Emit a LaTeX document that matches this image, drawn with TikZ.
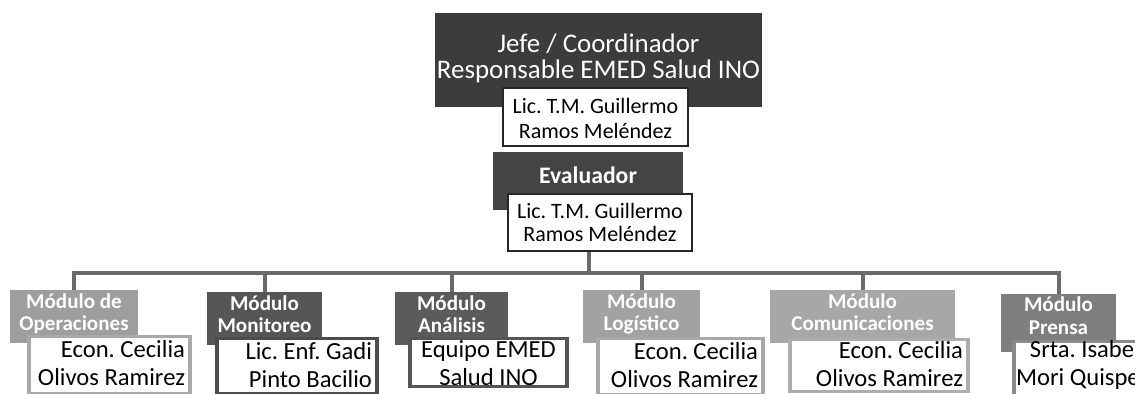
\documentclass[tikz,border=0pt]{standalone}
\usepackage{fontspec}
\setmainfont{Carlito}

\definecolor{bossgray}{HTML}{3C3C3C}
\definecolor{evalgray}{HTML}{444444}
\definecolor{framedark}{HTML}{262626}
\definecolor{linkgray}{HTML}{6A6A6A}
\definecolor{opfill}{HTML}{9E9E9E}
\definecolor{opline}{HTML}{A9A9A9}
\definecolor{monfill}{HTML}{565656}
\definecolor{monline}{HTML}{4C4C4C}
\definecolor{anafill}{HTML}{5B5B5B}
\definecolor{analine}{HTML}{555555}
\definecolor{logfill}{HTML}{A2A2A2}
\definecolor{logline}{HTML}{A8A8A8}
\definecolor{comfill}{HTML}{A7A7A7}
\definecolor{comline}{HTML}{ADADAD}
\definecolor{prefill}{HTML}{7E7E7E}
\definecolor{preline}{HTML}{8A8A8A}

\frenchspacing

\begin{document}
\begin{tikzpicture}[x=0.02cm, y=-0.02cm]
 \tikzset{head/.style={fill=#1, text=white, inner sep=0pt, align=center, anchor=north}}
 \tikzset{modtitle/.style={head=#1, font=\bfseries\fontsize{12}{13}\selectfont,
        text height=0.81cm, text depth=0.25cm}}
 \tikzset{person/.style={draw=#1, fill=white, line width=0.07cm, inner xsep=0.10cm,
        inner ysep=0pt, anchor=north, align=flush right,
        font=\fontsize{14}{15.9}\selectfont, text height=0.42cm, text depth=0.70cm}}
 \tikzset{boss person/.style={draw=framedark, fill=white, line width=0.05cm,
        inner sep=0pt, anchor=north, align=center}}
 \tikzset{link/.style={draw=linkgray, line width=0.08cm}}

 \useasboundingbox (0,0) rectangle (1135,394);
 \clip (0,0) rectangle (1135,394);

 % jefe
 \node[head=bossgray, font=\fontsize{15.3}{14.7}\selectfont, minimum width=6.54cm,
    text height=1.30cm, text depth=0.58cm] (jefe) at (598.5,13)
    {Jefe / Coordinador\\Responsable EMED Salud INO};
 \node[boss person, font=\fontsize{12.5}{14.2}\selectfont, minimum width=3.7cm,
    text height=1.0cm, text depth=0.16cm] (jefeN) at (595.5,87)
    {Lic. T.M. Guillermo\\Ramos Meléndez};

 % evaluador
 \node[head=evalgray, font=\bfseries\fontsize{13.5}{15}\selectfont, minimum width=3.8cm,
    text height=0.62cm, text depth=0.54cm] (eval) at (588,152) {Evaluador};
 \node[boss person, font=\fontsize{12.5}{13}\selectfont, minimum width=3.68cm,
    text height=0.94cm, text depth=0.2cm] (evalN) at (600,193)
    {Lic. T.M. Guillermo\\Ramos Meléndez};

 % modulos
 \node[modtitle=opfill, minimum width=2.56cm] (op) at (74,290) {Módulo de\\Operaciones};
 \node[person=opline, text width=3.02cm, text depth=0.72cm] (opN) at (109.5,335)
    {Econ. Cecilia\\Olivos Ramirez};

 \node[modtitle=monfill, minimum width=2.30cm] (mon) at (264.5,292) {Módulo\\Monitoreo};
 \node[person=monline, text width=3.00cm, text depth=0.68cm] (monN) at (297,337)
    {Lic. Enf. Gadi\\Pinto Bacilio};

 \node[modtitle=anafill, minimum width=2.26cm] (ana) at (451.5,292) {Módulo\\Análisis};
 \node[person=analine, align=flush center, text width=2.94cm, text height=0.38cm,
    text depth=0.58cm] (anaN) at (488.5,337) {Equipo EMED\\Salud INO};

 \node[modtitle=logfill, minimum width=2.34cm] (log) at (641.5,290) {Módulo\\Logístico};
 \node[person=logline, text width=3.10cm] (logN) at (680.5,337)
    {Econ. Cecilia\\Olivos Ramirez};

 \node[modtitle=comfill, minimum width=3.70cm] (com) at (862.5,290) {Módulo\\Comunicaciones};
 \node[person=comline, text width=3.36cm, text height=0.38cm, text depth=0.66cm] (comN)
    at (879,338) {Econ. Cecilia\\Olivos Ramirez};

 \node[modtitle=prefill, minimum width=2.30cm, text height=0.80cm, text depth=0.35cm]
    (pre) at (1058.5,294) {Módulo\\Prensa};
 \node[person=preline, text width=2.50cm, inner xsep=0.02cm, text height=0.32cm,
    text depth=0.9cm, anchor=north west] (preN) at (1012,340) {Srta. Isabel\\Mori Quispe};

 % connectors
 \coordinate (bus) at (589,273);
 \draw[link] (bus |- evalN.south) -- (bus);
 \foreach \m in {op, mon, ana, log, com, pre}
    \draw[link] (bus) -| (\m.north);
\end{tikzpicture}
\end{document}
